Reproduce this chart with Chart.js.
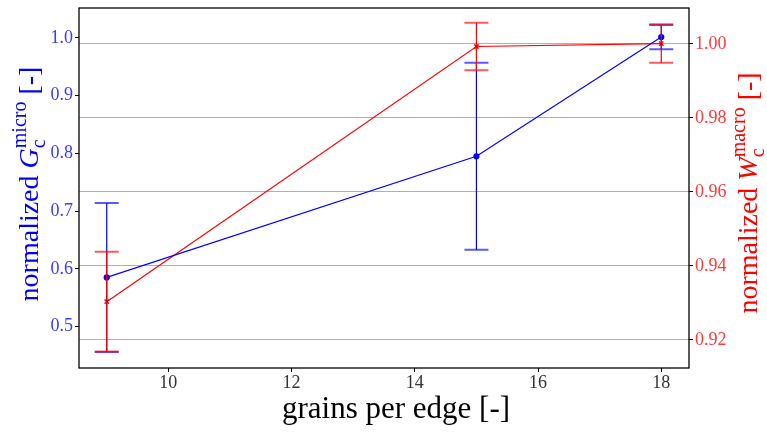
<!DOCTYPE html>
<html>
<head>
<meta charset="utf-8">
<script src="https://cdn.jsdelivr.net/npm/chart.js@4.4.0/dist/chart.umd.min.js"></script>
<style>
  body { margin: 0; background: #fff; }
  #wrap { width: 767px; height: 432px; }
</style>
</head>
<body>
<div id="wrap"><canvas id="chart" width="767" height="432"></canvas></div>
<script>
// grains per edge vs. normalized fracture quantities
var grains = [9, 15, 18];
var microVals = [0.585, 0.795, 1.0015];
var microErr = [0.129, 0.162, 0.021];
var macroVals = [0.9303, 0.9993, 1.0001];
var macroErr = [0.0135, 0.0064, 0.0052];

var xTicks = [10, 12, 14, 16, 18];
var microTicks = [0.5, 0.6, 0.7, 0.8, 0.9, 1.0];
var macroTicks = [0.92, 0.94, 0.96, 0.98, 1.00];

var SERIF = "'Liberation Serif', 'DejaVu Serif', serif";

function toPoints(xs, ys) {
    return xs.map(function(x, i){ return {x: x, y: ys[i]}; });
}

// vertical error bars with caps, drawn through each dataset's own y scale
var errorBars = {
    id: 'errorBars',
    afterDatasetsDraw: function(chart) {
        var ctx = chart.ctx;
        var xs = chart.scales.x;
        chart.data.datasets.forEach(function(ds){
            var ys = chart.scales[ds.yAxisID];
            ctx.save();
            ctx.strokeStyle = ds.borderColor;
            ds.errors.forEach(function(e, j){
                var px = xs.getPixelForValue(ds.data[j].x);
                var top = ys.getPixelForValue(ds.data[j].y + e);
                var bot = ys.getPixelForValue(ds.data[j].y - e);
                ctx.globalAlpha = 1;
                ctx.lineWidth = 1.2;
                ctx.beginPath();
                ctx.moveTo(px, top);
                ctx.lineTo(px, bot);
                ctx.stroke();
                ctx.globalAlpha = 0.65;
                ctx.lineWidth = 2;
                ctx.beginPath();
                ctx.moveTo(px - 12, top); ctx.lineTo(px + 12, top);
                ctx.moveTo(px - 12, bot); ctx.lineTo(px + 12, bot);
                ctx.stroke();
            });
            ctx.restore();
        });
    }
};

// rotated axis title with sub/superscript pieces
function drawRotatedLabel(ctx, parts, baseX, centerY, color) {
    var total = 0;
    parts.forEach(function(p){
        if (p.sub !== undefined) {
            ctx.font = p.small;
            p.w = Math.max(ctx.measureText(p.sub).width, ctx.measureText(p.sup).width);
        } else {
            ctx.font = p.font;
            p.w = ctx.measureText(p.t).width;
        }
        total += p.w;
    });
    ctx.save();
    ctx.translate(baseX, centerY);
    ctx.rotate(-Math.PI / 2);
    ctx.fillStyle = color;
    ctx.textBaseline = 'alphabetic';
    var x = -total / 2;
    parts.forEach(function(p){
        if (p.sub !== undefined) {
            ctx.font = p.small;
            ctx.fillText(p.sub, x, 7);
            ctx.fillText(p.sup, x, -12);
        } else {
            ctx.font = p.font;
            ctx.fillText(p.t, x, 0);
        }
        x += p.w;
    });
    ctx.restore();
}

var axisTitles = {
    id: 'axisTitles',
    afterDraw: function(chart) {
        var ctx = chart.ctx;
        var a = chart.chartArea;

        // frame around the plot
        ctx.save();
        ctx.strokeStyle = '#000';
        ctx.lineWidth = 1.3;
        ctx.strokeRect(a.left, a.top, a.right - a.left, a.bottom - a.top);
        ctx.restore();

        var big = '28px ' + SERIF;
        var ital = 'italic 28px ' + SERIF;
        var small = '20px ' + SERIF;

        drawRotatedLabel(ctx, [
            {t: 'normalized ', font: big},
            {t: 'G', font: ital},
            {sub: 'c', sup: 'micro', small: small},
            {t: ' [-]', font: big}
        ], 38, 184, '#0000ff');

        drawRotatedLabel(ctx, [
            {t: 'normalized ', font: big},
            {t: 'W', font: ital},
            {sub: 'c', sup: 'macro', small: small},
            {t: ' [-]', font: big}
        ], 757, 193, '#ff0000');

        ctx.save();
        ctx.font = '31px ' + SERIF;
        ctx.fillStyle = '#000';
        ctx.textAlign = 'center';
        ctx.textBaseline = 'alphabetic';
        ctx.fillText('grains per edge [-]', 396, 418);
        ctx.restore();
    }
};

function noPad(s) {
    s.paddingTop = 0;
    s.paddingBottom = 0;
    s.paddingLeft = 0;
    s.paddingRight = 0;
}

var chart = new Chart(document.getElementById('chart'), {
    type: 'line',
    data: {
        datasets: [{
            label: 'micro',
            data: toPoints(grains, microVals),
            errors: microErr,
            yAxisID: 'yMicro',
            borderColor: '#0000ff',
            backgroundColor: '#0000ff',
            borderWidth: 1.2,
            pointStyle: 'circle',
            pointRadius: 2.5,
            tension: 0
        }, {
            label: 'macro',
            data: toPoints(grains, macroVals),
            errors: macroErr,
            yAxisID: 'yMacro',
            borderColor: '#ff0000',
            backgroundColor: '#ff0000',
            borderWidth: 1.2,
            pointStyle: 'crossRot',
            pointRadius: 3,
            pointBorderWidth: 1.5,
            tension: 0
        }]
    },
    options: {
        responsive: false,
        animation: false,
        layout: { padding: { top: 8, left: 0, right: 0, bottom: 0 } },
        plugins: { legend: { display: false }, tooltip: { enabled: false } },
        scales: {
            x: {
                type: 'linear',
                position: 'bottom',
                min: 8.55,
                max: 18.45,
                afterBuildTicks: function(s){ s.ticks = xTicks.map(function(v){ return {value: v}; }); },
                afterFit: function(s){ s.height = 64; noPad(s); },
                border: { display: false },
                grid: { drawOnChartArea: false, tickLength: 4, tickColor: '#000' },
                ticks: {
                    padding: 0,
                    color: '#333',
                    font: { family: SERIF, size: 18 },
                    callback: function(v){ return String(v); }
                }
            },
            yMicro: {
                type: 'linear',
                position: 'left',
                min: 0.4281,
                max: 1.0518,
                afterBuildTicks: function(s){ s.ticks = microTicks.map(function(v){ return {value: v}; }); },
                afterFit: function(s){ s.width = 79; noPad(s); },
                border: { display: false },
                grid: { drawOnChartArea: false, tickLength: 4, tickColor: '#000' },
                ticks: {
                    padding: 2,
                    color: '#3a3aff',
                    font: { family: SERIF, size: 18 },
                    callback: function(v){ return v.toFixed(1); }
                }
            },
            yMacro: {
                type: 'linear',
                position: 'right',
                min: 0.91237,
                max: 1.00971,
                afterBuildTicks: function(s){ s.ticks = macroTicks.map(function(v){ return {value: v}; }); },
                afterFit: function(s){ s.width = 78; noPad(s); },
                border: { display: false },
                grid: { drawOnChartArea: true, color: '#b0b0b0', lineWidth: 1, tickLength: 4, tickColor: '#000' },
                ticks: {
                    padding: 2,
                    color: '#ff3a3a',
                    font: { family: SERIF, size: 18 },
                    callback: function(v){ return v.toFixed(2); }
                }
            }
        }
    },
    plugins: [errorBars, axisTitles]
});
</script>
</body>
</html>
